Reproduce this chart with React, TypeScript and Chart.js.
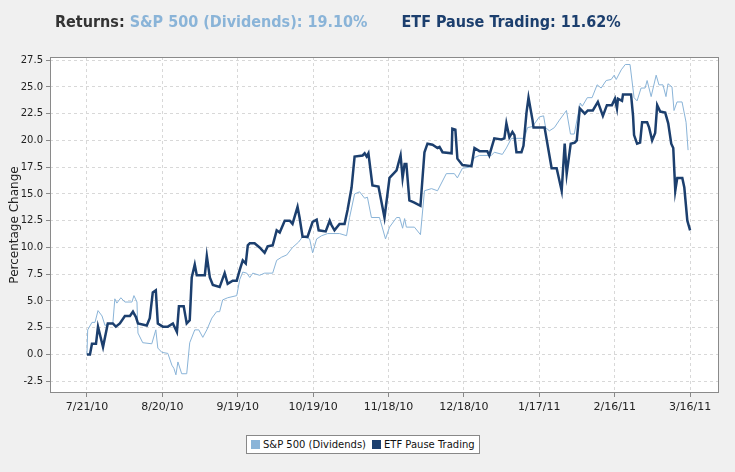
import React, { useEffect, useRef } from "react";
import { Chart, registerables } from "chart.js";
Chart.register(...registerables);

const xTickLabels = ["7/21/10", "8/20/10", "9/19/10", "10/19/10", "11/18/10", "12/18/10", "1/17/11", "2/16/11", "3/16/11"];
const yTicks = [-2.5, 0, 2.5, 5, 7.5, 10, 12.5, 15, 17.5, 20, 22.5, 25, 27.5];

// day offsets from 7/21/10 and percentage change
const etfDays = [0,1.2,2,3.6,4.4,6.4,8.3,10.3,11.5,13.1,15.1,17.1,18.3,19.5,20.3,23.8,25,26.2,27.4,28.2,30.2,32.2,34.2,35.8,36.6,38.5,39.7,40.9,41.7,42.9,43.7,46.9,47.7,48.9,50.1,52.8,54.8,56,58,59.6,60.8,62,63.2,64,64.8,66.7,68.7,70.7,71.9,73.9,75.5,76.7,78.7,80.7,81.8,83.8,84.6,85.8,87.8,89.8,91.4,92.2,95,96.6,97.3,98.5,100.5,102.5,103.7,105.3,106.5,109.7,110.5,111.3,112,113.6,116,118.4,120.4,123.2,124.8,125.6,126.4,127.1,128.3,130.3,132.7,134.3,135.5,137.5,139.5,140.3,141.5,145.1,145.4,146.6,147.4,149.4,153,154.2,156.2,159.3,160.1,162.1,164.9,166.1,166.9,168.1,169.3,170.1,170.9,172.9,173.7,174.9,175.7,177.3,177.7,182.1,184.9,186.9,188.9,190.1,190.9,192.5,194.1,194.9,196.1,198.1,199.3,201.3,203.3,205.3,206.9,208.9,210.1,210.9,211.3,212.9,213.3,216.5,217.3,217.7,218.9,220.1,220.9,222.9,223.7,224.9,226.1,226.9,228.1,230.1,231.3,232.5,233.3,234.1,234.9,236.9,237.7,238.9,240];
const etfValues = [0,0,1.0,1.0,2.6,0.7,2.9,2.9,2.6,2.9,3.6,3.6,4.0,3.5,2.9,2.7,3.4,5.8,6.0,2.9,2.6,2.6,2.9,2.1,4.5,4.5,2.9,3.2,7.2,8.4,7.4,7.4,9.2,7.2,6.5,6.3,7.6,6.6,6.9,6.9,7.9,8.8,8.5,10.2,10.4,10.4,10.0,9.5,10.1,10.2,11.6,11.4,12.5,12.5,12.2,13.8,12.8,11.0,11.0,12.4,12.6,11.6,11.5,12.5,12.1,11.6,12.2,12.2,13.5,15.6,18.5,18.6,18.8,18.5,18.8,15.8,15.7,12.8,16.5,17.2,18.6,16.5,17.8,17.8,14.4,14.2,13.9,18.9,19.7,19.6,19.3,19.4,18.9,18.8,21.1,21.0,18.3,17.7,17.6,19.3,19.0,19.0,18.6,20.2,20.1,20.2,21.6,20.3,20.8,20.5,18.9,18.9,19.5,22.6,24.0,21.9,21.2,21.2,17.4,17.4,15.3,19.7,16.9,19.7,19.8,20.0,23.0,22.5,22.8,22.8,23.6,22.3,23.3,23.3,23.9,23.0,23.9,23.7,24.3,24.3,22.3,20.5,19.7,19.8,21.7,21.7,21.2,20.0,20.7,23.3,22.7,22.6,21.6,19.7,19.3,15.3,16.5,16.5,15.6,12.5,11.6];

const spDays = [0,0.3,2,3.2,4.4,6,7.2,8.3,10.3,11.1,11.9,13.5,15.1,17.9,18.7,19.9,20.3,22.2,25.8,27.4,28.2,29.8,32.2,33.8,34.6,35.4,36.2,37.7,39.7,40.9,42.9,44.5,46.1,47.7,49.7,51.6,52.8,54,56,59.6,60.8,62,63.6,64.8,66,68.7,70.7,73.9,75.5,77.5,79.5,81.8,84.2,85.8,88.6,89.8,91.4,93.4,95.8,100.5,103.3,104.5,106.5,108.5,110.5,111.6,113.2,116.4,118.8,120.4,123.2,124.4,125.6,126.4,127.1,130.3,132.7,134.3,137.1,139.5,143,146.2,147.4,149.4,152.2,154.2,156.2,160.9,162.1,165.3,166.9,168.9,174.1,175.3,177.3,180,181.7,182.5,184,186,188,190.8,192.4,193.9,196.3,197.1,199.1,201,203,204.6,206.6,208.6,209.8,210.6,212.6,214.2,216.1,217.7,218.9,220.5,222.1,222.9,224.5,226.5,227.6,229.2,230.4,231.2,232.8,233.6,234.8,236.8,238.4,239.2];
const spValues = [0,2.3,3.0,3.0,4.1,3.6,2.7,2.9,2.9,5.2,4.8,5.3,4.9,4.9,5.5,4.9,2.0,1.1,1.0,2.3,0.6,0.2,0.1,-1.0,-1.3,-1.9,-0.7,-1.8,-1.8,1.1,2.3,2.3,1.6,2.3,3.4,4.0,4.0,5.1,5.3,5.5,7.0,7.7,7.6,7.2,7.6,7.4,7.6,7.6,8.8,9.1,9.3,10.0,10.5,11.0,10.8,9.5,10.8,11.1,11.3,11.3,11.1,12.8,15.0,15.2,14.6,14.7,12.8,12.8,10.8,11.9,12.8,12.8,11.8,12.7,11.9,11.9,11.2,15.3,15.5,15.3,16.9,16.9,16.5,17.4,17.5,18.4,18.6,18.6,18.9,18.7,19.3,20.2,20.2,21.2,21.3,22.2,22.3,21.2,20.9,21.2,21.9,22.8,20.6,20.6,23.5,23.2,24.0,24.0,25.2,24.9,25.6,25.7,26.1,25.7,26.6,27.1,27.1,24.0,23.7,24.9,24.9,25.6,24.1,26.1,25.2,25.2,24.1,25.3,25.0,22.8,23.6,23.6,21.7,19.1];

const SP_COLOR = "#8ab4d8";
const ETF_COLOR = "#1c3f6e";
const FONT = "'DejaVu Sans', sans-serif";

export default function App() {
  const ref = useRef<HTMLCanvasElement>(null);
  useEffect(() => {
    const frame = {
      id: "frame",
      beforeDraw(c: any) {
        const { ctx, chartArea: a } = c;
        ctx.save();
        ctx.fillStyle = "#ffffff";
        ctx.fillRect(a.left, a.top, a.right - a.left, a.bottom - a.top);
        ctx.restore();
      },
      afterDraw(c: any) {
        const { ctx, chartArea: a } = c;
        ctx.save();
        ctx.strokeStyle = "#8a8a8a";
        ctx.lineWidth = 1;
        ctx.strokeRect(a.left + 0.5, a.top + 0.5, a.right - a.left - 1, a.bottom - a.top - 1);
        ctx.restore();
      },
    };
    const chart = new Chart(ref.current!, {
      type: "line",
      data: {
        datasets: [
          {
            label: "ETF Pause Trading",
            data: etfDays.map((d, i) => ({ x: d, y: etfValues[i] })),
            borderColor: ETF_COLOR,
            borderWidth: 2.5,
            pointRadius: 0,
            tension: 0,
          },
          {
            label: "S&P 500 (Dividends)",
            data: spDays.map((d, i) => ({ x: d, y: spValues[i] })),
            borderColor: SP_COLOR,
            borderWidth: 1,
            pointRadius: 0,
            tension: 0,
          },
        ],
      },
      options: {
        animation: false,
        responsive: false,
        layout: { padding: { left: 8, top: 57, right: 16, bottom: 49 } },
        plugins: { legend: { display: false }, tooltip: { enabled: false } },
        scales: {
          x: {
            type: "linear",
            min: -14.7,
            max: 251.5,
            afterBuildTicks: (s: any) => { s.ticks = xTickLabels.map((_, i) => ({ value: i * 30 })); },
            afterFit: (s: any) => { s.height = 30; },
            ticks: {
              callback: (v: any) => xTickLabels[Math.round(Number(v) / 30)] ?? "",
              color: "#222",
              font: { family: FONT, size: 11 },
              maxRotation: 0,
              autoSkip: false,
              padding: 4,
            },
            grid: { color: "#d8d8d8", tickColor: "#888", tickLength: 4, tickBorderDash: [], tickBorderDashOffset: 0 },
            border: { display: false, dash: [3, 3] },
          },
          y: {
            min: -3.6,
            max: 27.8,
            afterBuildTicks: (s: any) => { s.ticks = yTicks.map((v) => ({ value: v })); },
            afterFit: (s: any) => { s.width = 42; },
            ticks: {
              callback: (v: any) => Number(v).toFixed(1),
              color: "#222",
              font: { family: FONT, size: 10 },
              padding: 3,
            },
            title: { display: true, text: "Percentage Change", color: "#222", font: { family: FONT, size: 12 }, padding: 0 },
            grid: { color: "#d8d8d8", tickColor: "#888", tickLength: 4, tickBorderDash: [] },
            border: { display: false, dash: [3, 3] },
          },
        },
      },
      plugins: [frame],
    } as any);
    return () => chart.destroy();
  }, []);

  return (
    <div style={{ position: "fixed", left: 0, top: 0, width: 735, height: 472, background: "#f0f0f0", overflow: "hidden" }}>
      <canvas ref={ref} width={735} height={472} style={{ position: "absolute", left: 0, top: 0, width: 735, height: 472 }} />
      <div style={{ position: "absolute", left: 55, top: 12, fontFamily: "'DejaVu Sans Condensed', 'DejaVu Sans', sans-serif", fontWeight: "bold", fontSize: 16, whiteSpace: "nowrap", color: "#333" }}>
        Returns: <span style={{ color: SP_COLOR }}>S&amp;P 500 (Dividends): 19.10%</span>
        <span style={{ color: ETF_COLOR, marginLeft: 34 }}>ETF Pause Trading: 11.62%</span>
      </div>
      <div style={{ position: "absolute", left: 246, top: 435, height: 17, padding: "0 4px", border: "1px solid #888", background: "#fff", display: "flex", alignItems: "center", fontFamily: FONT, fontSize: 10, color: "#111", whiteSpace: "nowrap" }}>
        <span style={{ width: 9, height: 9, background: SP_COLOR, display: "inline-block", marginRight: 3 }} />
        S&amp;P 500 (Dividends)
        <span style={{ width: 9, height: 9, background: ETF_COLOR, display: "inline-block", margin: "0 3px 0 6px" }} />
        ETF Pause Trading
      </div>
    </div>
  );
}
